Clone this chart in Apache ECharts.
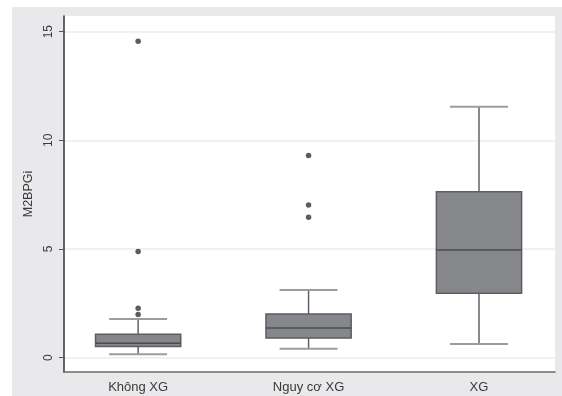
<!DOCTYPE html>
<html><head><meta charset="utf-8">
<script src="https://cdn.jsdelivr.net/npm/echarts@6/dist/echarts.min.js"></script>
<style>html,body{margin:0;padding:0;background:#fff}#c{width:562px;height:396px}</style>
</head><body><div id="c"></div>
<script>
const categories = ['Không XG', 'Nguy cơ XG', 'XG'];
// [min whisker, Q1, median, Q3, max whisker]
const boxStats = [
  [0.16, 0.52, 0.66, 1.08, 1.78],
  [0.41, 0.91, 1.37, 2.01, 3.12],
  [0.63, 2.96, 4.96, 7.63, 11.55]
];
// outliers per category
const outliers = [
  [14.56, 4.88, 2.28, 1.99],
  [9.30, 7.03, 6.46],
  []
];
const yTicks = [0, 5, 10, 15];
const yName = 'M2BPGi';

const boxData = boxStats.map((s, i) => [i].concat(s));
const outlierData = [];
outliers.forEach((arr, i) => arr.forEach(v => outlierData.push([i, v])));

const font = '"Liberation Sans", Arial, sans-serif';
const chart = echarts.init(document.getElementById('c'), null, {renderer: 'canvas'});
chart.setOption({
  animation: false,
  backgroundColor: '#ffffff',
  graphic: [
    {type: 'rect', z: -10, shape: {x: 12, y: 7, width: 550, height: 389}, style: {fill: '#e9e9eb'}},
    {type: 'rect', z: -9, shape: {x: 64, y: 16, width: 491, height: 356}, style: {fill: '#ffffff'}}
  ],
  grid: {left: 64, right: 7, top: 16, bottom: 24, show: false},
  xAxis: {
    type: 'value', min: -0.435, max: 2.446,
    splitLine: {show: false},
    axisLine: {show: true, onZero: false, lineStyle: {color: '#6a6a6a', width: 1.5}},
    axisTick: {show: false, customValues: [0, 1, 2]},
    axisLabel: {customValues: [0, 1, 2], formatter: v => categories[Math.round(v)] || '',
      color: '#3a3a3a', fontSize: 13, fontFamily: font, margin: 9}
  },
  yAxis: {
    type: 'value', min: -0.658, max: 15.72,
    name: yName, nameLocation: 'middle', nameRotate: 90, nameGap: 27,
    nameTextStyle: {color: '#3a3a3a', fontSize: 12.5, fontFamily: font},
    axisLine: {show: true, onZero: false, lineStyle: {color: '#333', width: 1.5}},
    axisTick: {show: true, length: 5, customValues: yTicks, lineStyle: {color: '#555'}},
    axisLabel: {customValues: yTicks, rotate: 90, color: '#3a3a3a', fontSize: 12, fontFamily: font, margin: 9},
    splitLine: {show: true, lineStyle: {color: '#ececec', width: 1.5}}
  },
  series: [
    {
      type: 'custom',
      data: boxData,
      encode: {x: 0, y: [1, 2, 3, 4, 5]},
      renderItem: function (params, api) {
        const x = api.value(0);
        const unit = api.size([1, 0])[0];
        const hb = unit * 0.25, hc = unit * 0.17;
        const p = k => api.coord([x, api.value(k)]);
        const pMin = p(1), pQ1 = p(2), pMed = p(3), pQ3 = p(4), pMax = p(5);
        const cx = pMin[0];
        const wl = {stroke: '#606165', lineWidth: 1.5};
        const cap = {stroke: '#9c9c9e', lineWidth: 2};
        return {type: 'group', children: [
          {type: 'line', shape: {x1: cx, y1: pQ3[1], x2: cx, y2: pMax[1]}, style: wl},
          {type: 'line', shape: {x1: cx, y1: pMin[1], x2: cx, y2: pQ1[1]}, style: wl},
          {type: 'line', shape: {x1: cx - hc, y1: pMax[1], x2: cx + hc, y2: pMax[1]}, style: cap},
          {type: 'line', shape: {x1: cx - hc, y1: pMin[1], x2: cx + hc, y2: pMin[1]}, style: cap},
          {type: 'rect', shape: {x: cx - hb, y: pQ3[1], width: 2 * hb, height: pQ1[1] - pQ3[1]},
            style: {fill: '#86878b', stroke: '#5d5e62', lineWidth: 1.5}},
          {type: 'line', shape: {x1: cx - hb, y1: pMed[1], x2: cx + hb, y2: pMed[1]}, style: {stroke: '#4a4b4f', lineWidth: 1.5}}
        ]};
      }
    },
    {
      type: 'scatter', data: outlierData, symbol: 'circle', symbolSize: 5.5,
      itemStyle: {color: '#333335'}
    }
  ]
});
</script></body></html>
